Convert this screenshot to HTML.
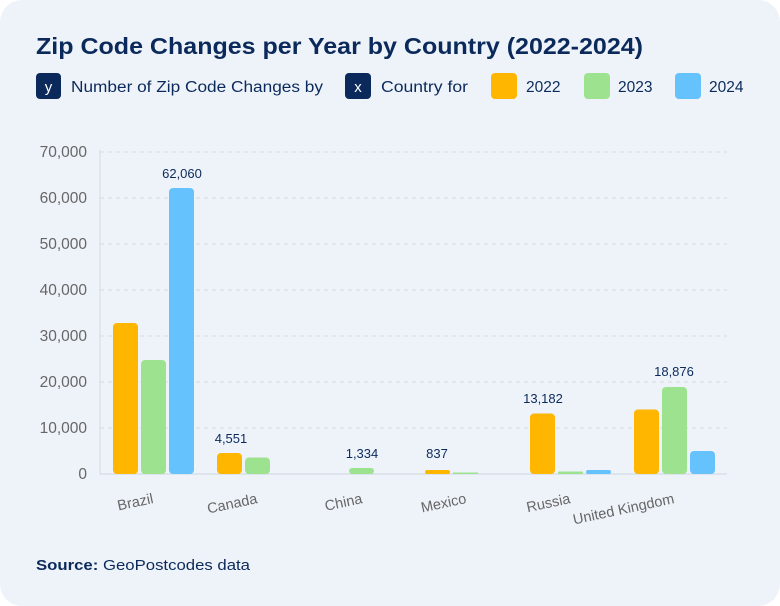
<!DOCTYPE html>
<html><head><meta charset="utf-8"><style>
body{margin:0;background:#fff;}
.card{position:absolute;left:0;top:0;width:780px;height:606px;background:#eef3fa;border-radius:22px;overflow:hidden;font-family:"Liberation Sans",sans-serif;}
</style></head><body>
<div class="card">
<svg width="780" height="606" xmlns="http://www.w3.org/2000/svg" font-family="Liberation Sans, sans-serif">
<text x="36" y="54" font-size="23" font-weight="bold" fill="#0b2a5b" textLength="607" lengthAdjust="spacingAndGlyphs">Zip Code Changes per Year by Country (2022-2024)</text>
<rect x="36" y="73" width="25" height="26" rx="4" fill="#0b2a5b"/><text x="48.5" y="92" font-size="15" fill="#fff" text-anchor="middle">y</text>
<text x="71" y="92" font-size="15.5" fill="#0b2a5b" textLength="252" lengthAdjust="spacingAndGlyphs">Number of Zip Code Changes by</text>
<rect x="345" y="73" width="26" height="26" rx="4" fill="#0b2a5b"/><text x="358" y="92" font-size="15" fill="#fff" text-anchor="middle">x</text>
<text x="381" y="92" font-size="15.5" fill="#0b2a5b" textLength="87" lengthAdjust="spacingAndGlyphs">Country for</text>
<rect x="491" y="73" width="26" height="26" rx="4" fill="#ffb600"/><text x="526" y="92" font-size="15.5" fill="#0b2a5b">2022</text>
<rect x="584" y="73" width="26" height="26" rx="4" fill="#9de38f"/><text x="618" y="92" font-size="15.5" fill="#0b2a5b">2023</text>
<rect x="675" y="73" width="26" height="26" rx="4" fill="#66c2fd"/><text x="709" y="92" font-size="15.5" fill="#0b2a5b">2024</text>
<g stroke="#d6dbe3" stroke-dasharray="4,4">
<line x1="100" x2="727" y1="152" y2="152"/><line x1="100" x2="727" y1="198" y2="198"/><line x1="100" x2="727" y1="244" y2="244"/><line x1="100" x2="727" y1="290" y2="290"/><line x1="100" x2="727" y1="336" y2="336"/><line x1="100" x2="727" y1="382" y2="382"/><line x1="100" x2="727" y1="428" y2="428"/>
</g>
<line x1="100" x2="100" y1="150" y2="474" stroke="#d6dbe3"/>
<line x1="100" x2="727" y1="474" y2="474" stroke="#cfd4dc"/>
<g font-size="15.5" fill="#666" text-anchor="end">
<text x="87" y="157">70,000</text><text x="87" y="203">60,000</text><text x="87" y="249">50,000</text><text x="87" y="295">40,000</text><text x="87" y="341">30,000</text><text x="87" y="387">20,000</text><text x="87" y="433">10,000</text><text x="87" y="479">0</text>
</g>
<g>
<rect x="113" y="323" width="25" height="151" rx="4" fill="#ffb600"/>
<rect x="141" y="360" width="25" height="114" rx="4" fill="#9de38f"/>
<rect x="169" y="188" width="25" height="286" rx="4" fill="#66c2fd"/>
<rect x="217" y="453" width="25" height="21" rx="4" fill="#ffb600"/>
<rect x="245" y="457.5" width="25" height="16.5" rx="4" fill="#9de38f"/>
<rect x="349" y="468" width="25" height="6" rx="3" fill="#9de38f"/>
<rect x="425" y="470" width="25" height="4" rx="2" fill="#ffb600"/>
<rect x="453" y="472.5" width="25" height="1.5" fill="#9de38f"/>
<rect x="530" y="413.5" width="25" height="60.5" rx="4" fill="#ffb600"/>
<rect x="558" y="471.5" width="25" height="2.5" rx="1" fill="#9de38f"/>
<rect x="586" y="470" width="25" height="4" rx="2" fill="#66c2fd"/>
<rect x="634" y="409.5" width="25" height="64.5" rx="4" fill="#ffb600"/>
<rect x="662" y="387" width="25" height="87" rx="4" fill="#9de38f"/>
<rect x="690" y="451" width="25" height="23" rx="4" fill="#66c2fd"/>
</g>
<g font-size="13" fill="#0b2a5b" text-anchor="middle">
<text x="182" y="178">62,060</text><text x="231" y="443">4,551</text><text x="362" y="458">1,334</text><text x="437" y="458">837</text><text x="543" y="403">13,182</text><text x="674" y="376">18,876</text>
</g>
<g font-size="14.5" fill="#666" text-anchor="end">
<text transform="translate(154,503) rotate(-12)">Brazil</text>
<text transform="translate(258,503) rotate(-12)">Canada</text>
<text transform="translate(363,503) rotate(-12)">China</text>
<text transform="translate(467,503) rotate(-12)">Mexico</text>
<text transform="translate(571,503) rotate(-12)">Russia</text>
<text transform="translate(675,503) rotate(-12)">United Kingdom</text>
</g>
<text x="36" y="570" font-size="15" fill="#0b2a5b" textLength="214" lengthAdjust="spacingAndGlyphs"><tspan font-weight="bold">Source:</tspan> GeoPostcodes data</text>
</svg>
</div>
</body></html>
